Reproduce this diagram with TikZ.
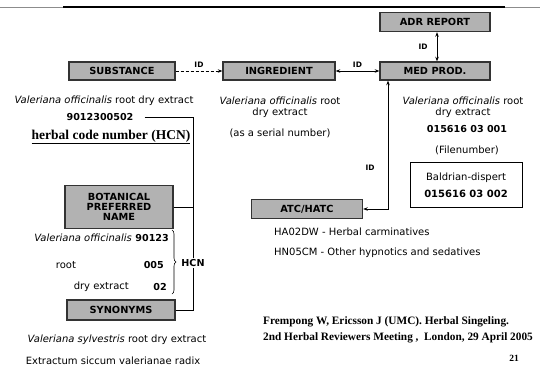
\documentclass[tikz,border=0pt]{standalone}
\usepackage{fontspec}
\setmainfont{DejaVu Sans}
\newfontfamily\refserif{Liberation Serif}
\usetikzlibrary{arrows.meta, positioning, decorations.pathreplacing}

\begin{document}
\begin{tikzpicture}[
    x=1pt, y=-1pt,
    node distance=2pt and 4pt,
    arr/.style={{Stealth[length=4.5pt, width=3.5pt]}-{Stealth[length=4.5pt, width=3.5pt]}, line width=0.7pt},
    tbl/.style={draw=black!80, line width=1.4pt, fill=black!30, minimum height=18pt,
        font=\bfseries\fontsize{9.8}{11}\selectfont, inner sep=2pt},
    txt/.style={font=\fontsize{10}{13}\selectfont, inner sep=1pt},
    num/.style={font=\bfseries\fontsize{9.6}{13}\selectfont, inner sep=1pt},
    idl/.style={font=\bfseries\fontsize{7.5}{8}\selectfont, inner sep=1pt},
    link/.style={line width=0.7pt},
]
    \useasboundingbox (0,0) rectangle (540,372);

    % rule at the top of the slide
    \draw[black!45, line width=0.5pt] (0,7) -- (540,7);
    \draw[line width=1.6pt] (63,7) -- (505,7);

    % tables
    \node[tbl, minimum width=106pt] (sub) at (122,71) {SUBSTANCE};
    \node[tbl, minimum width=112pt] (ing) at (279,71) {INGREDIENT};
    \node[tbl, minimum width=110pt] (med) at (435,71) {MED PROD.};
    \node[tbl, minimum width=110pt, minimum height=19pt] (adr) at (435,22) {ADR REPORT};
    \node[tbl, minimum width=111pt, minimum height=19pt] (atc) at (307,209) {ATC/HATC};
    \node[tbl, minimum width=108pt, minimum height=43pt, align=center] (bpn) at (119,207) {BOTANICAL\\[-1pt]PREFERRED\\[-1pt]NAME};
    \node[tbl, minimum width=108pt, minimum height=20pt] (syn) at (121,310) {SYNONYMS};

    % substance column
    \node[txt] (subname) at (104,101) {\textit{Valeriana officinalis} root dry extract};
    \node[num] (code) at (100,117) {9012300502};
    \node[font=\refserif\bfseries\fontsize{13.5}{15}\selectfont, inner sep=1pt] (hcnlab) at (111,137) {\underline{herbal code number (HCN)}};

    % ingredient column
    \node[txt, align=center] (ingname) at (280,107) {\textit{Valeriana officinalis} root\\[-2pt]dry extract};
    \node[txt] (serial) at (280,133) {(as a serial number)};

    % medicinal product column
    \node[txt, align=center] (medname) at (463,107) {\textit{Valeriana officinalis} root\\[-2pt]dry extract};
    \node[num] (fileno) at (467,129) {015616 03 001};
    \node[txt] (filelab) at (467,150) {(Filenumber)};
    \node[draw, line width=1pt, minimum width=112pt, minimum height=45pt, align=center,
        font=\fontsize{10}{13}\selectfont] (bald) at (466,185)
        {Baldrian-dispert\\[4pt]\textbf{015616 03 002}};

    % ATC codes
    \node[txt, anchor=west] (atc1) at (273,232) {HA02DW - Herbal carminatives};
    \node[txt, anchor=west] (atc2) at (273,253) {HN05CM - Other hypnotics and sedatives};

    % herbal code number parts
    \node[txt, anchor=east] (part1) at (133,238) {\textit{Valeriana officinalis}};
    \node[num, anchor=east] (code1) at (170,238) {90123};
    \node[txt] (part2) at (66,265) {root};
    \node[num, anchor=east] (code2) at (165,265) {005};
    \node[txt, anchor=east] (part3) at (130,287) {dry extract};
    \node[num, anchor=east] (code3) at (168,287) {02};
    \draw[line width=0.6pt, decorate, decoration={brace, amplitude=4pt}] (172,230) -- (172,294);
    \node[num] (hcn) at (193,263) {HCN};

    % synonyms
    \node[txt] (synname) at (117,340) {\textit{Valeriana sylvestris} root dry extract};
    \node[txt] (synlat) at (113,361) {Extractum siccum valerianae radix};

    % reference
    \node[font=\refserif\bfseries\fontsize{11.3}{16}\selectfont, align=left, anchor=west, inner sep=0pt] (ref) at (263,330)
        {Frempong W, Ericsson J (UMC). Herbal Singeling.\\2nd Herbal Reviewers Meeting , \ London, 29 April 2005};
    \node[font=\refserif\bfseries\fontsize{9.5}{10}\selectfont, inner sep=0pt] (page) at (514,358) {21};

    % links
    \draw[link] ([xshift=10pt]code.east) -| (hcn.north);
    \draw[link] (bpn.east) -- (bpn.east -| hcn.north);
    \draw[link] (syn.east) -| (hcn.south);

    \draw[-{Stealth[length=4.5pt, width=3.5pt]}, densely dashed, line width=0.6pt] (sub) -- (ing)
        node[midway, above=2pt, idl] {ID};
    \draw[arr] (ing) -- (med) node[midway, above=2pt, idl] {ID};
    \draw[arr] ([xshift=2pt]adr.south) -- ([xshift=2pt]med.north) node[midway, left=8pt, idl] {ID};
    \draw[arr] (atc.east) -| ([xshift=-47pt]med.south) node[pos=0.66, left=12pt, idl] {ID};

\end{tikzpicture}
\end{document}
